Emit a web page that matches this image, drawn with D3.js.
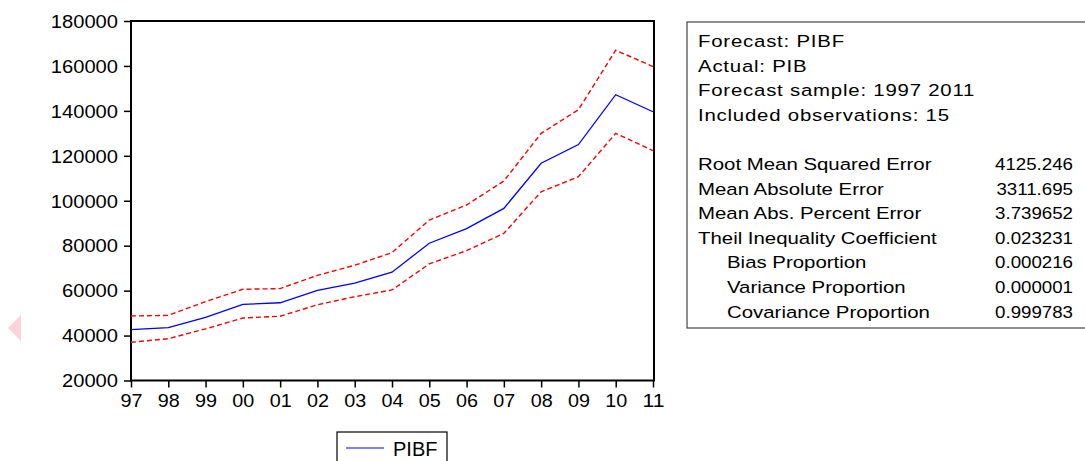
<!DOCTYPE html>
<html>
<head>
<meta charset="utf-8">
<script src="https://cdn.jsdelivr.net/npm/d3@7"></script>
<style>
  body { margin: 0; background: #fff; }
  text { font-family: "Liberation Sans", Arial, sans-serif; fill: #000; }
</style>
</head>
<body>
<svg id="chart" width="1085" height="461"></svg>
<script>
//// DATA

const years = ["97","98","99","00","01","02","03","04","05","06","07","08","09","10","11"]

// forecast PIBF
const pibf = [42600,43500,48100,53900,54600,60100,63300,68200,81100,87600,96600,116700,125000,147200,139600]
// +/- 2 S.E. bands
const upper = [48700,49000,55100,60600,60900,66800,71300,76900,91400,98100,108800,130000,140500,167000,159700]
const lower = [37000,38600,43000,47800,48600,53700,57300,60300,71900,77800,85500,104000,110700,130000,122300]

const yTicks = [20000,40000,60000,80000,100000,120000,140000,160000,180000]

const statsHeader = ["Forecast: PIBF","Actual: PIB","Forecast sample: 1997 2011","Included observations: 15"]
const statLabels = ["Root Mean Squared Error","Mean Absolute Error","Mean Abs. Percent Error",
  "Theil Inequality Coefficient","Bias Proportion","Variance Proportion","Covariance Proportion"]
const statValues = ["4125.246","3311.695","3.739652","0.023231","0.000216","0.000001","0.999783"]
const statIndent = [false,false,false,false,true,true,true]

//// CHART

const svg = d3.select("#chart")

const plot = {left: 131, right: 654, top: 21, bottom: 380.5}

const x = d3.scalePoint()
  .domain(years)
  .range([plot.left, plot.right - 1])

const y = d3.scaleLinear()
  .domain([20000, 180000])
  .range([plot.bottom, plot.top])

// y axis
const yAxis = svg.append("g")
  .attr("transform", `translate(${plot.left},0)`)
  .call(d3.axisLeft(y).tickValues(yTicks).tickSize(7).tickPadding(6).tickFormat(d3.format("d")))
yAxis.select(".domain").remove()
yAxis.selectAll("line").attr("stroke", "#000").attr("stroke-width", 1.5)
yAxis.selectAll("text")
  .style("font-size", "19px")
  .style("font-family", "Liberation Sans, Arial, sans-serif")
  .attr("dy", "0.33em")
  .attr("textLength", d => String(d).length * 11.2)
  .attr("lengthAdjust", "spacingAndGlyphs")

// x axis
const xAxis = svg.append("g")
  .attr("transform", `translate(0,${plot.bottom})`)
  .call(d3.axisBottom(x).tickSize(7).tickPadding(6))
xAxis.select(".domain").remove()
xAxis.selectAll("line").attr("stroke", "#000").attr("stroke-width", 1.5)
xAxis.selectAll("text")
  .style("font-size", "19px")
  .style("font-family", "Liberation Sans, Arial, sans-serif")
  .attr("textLength", 22)
  .attr("lengthAdjust", "spacingAndGlyphs")

// frame round the plot
svg.append("rect")
  .attr("x", plot.left)
  .attr("y", plot.top)
  .attr("width", plot.right - plot.left)
  .attr("height", plot.bottom - plot.top)
  .attr("fill", "none")
  .attr("stroke", "#000")
  .attr("stroke-width", 2)

const line = d3.line()
  .x((d, i) => x(years[i]))
  .y(d => y(d))

// confidence bands
for (const band of [upper, lower]) {
  svg.append("path")
    .attr("d", line(band))
    .attr("fill", "none")
    .attr("stroke", "#ff0000")
    .attr("stroke-width", 1.4)
    .attr("stroke-dasharray", "5,3")
}

svg.append("path")
  .attr("d", line(pibf))
  .attr("fill", "none")
  .attr("stroke", "#0000ff")
  .attr("stroke-width", 1.3)

// legend under the plot
const legend = svg.append("g").attr("transform", "translate(337,432)")
legend.append("rect")
  .attr("width", 110)
  .attr("height", 40)
  .attr("fill", "#fff")
  .attr("stroke", "#000")
  .attr("stroke-width", 1.2)
legend.append("line")
  .attr("x1", 9).attr("x2", 47)
  .attr("y1", 16).attr("y2", 16)
  .attr("stroke", "#0000ff")
  .attr("stroke-width", 1.2)
legend.append("text")
  .attr("x", 56).attr("y", 24)
  .style("font-size", "20px")
  .text("PIBF")

// statistics box
const box = svg.append("g")
box.append("rect")
  .attr("x", 687).attr("y", 22)
  .attr("width", 420).attr("height", 306)
  .attr("fill", "none")
  .attr("stroke", "#444")
  .attr("stroke-width", 1.2)

const rowY = i => 47 + 24.6 * i

box.selectAll(".hdr")
  .data(statsHeader)
  .join("text")
  .attr("class", "hdr")
  .attr("transform", (d, i) => `translate(698,${rowY(i)}) scale(1.2,1)`)
  .style("font-size", "17px")
  .style("letter-spacing", "0.65px")
  .text(d => d)

box.selectAll(".lbl")
  .data(statLabels)
  .join("text")
  .attr("class", "lbl")
  .attr("transform", (d, i) => `translate(${statIndent[i] ? 727 : 698},${rowY(i + 5)}) scale(1.2,1)`)
  .style("font-size", "17px")
  .text(d => d)

box.selectAll(".val")
  .data(statValues)
  .join("text")
  .attr("class", "val")
  .attr("transform", (d, i) => `translate(1073,${rowY(i + 5)}) scale(1.1,1)`)
  .attr("text-anchor", "end")
  .style("font-size", "17px")
  .text(d => d)

// faded arrow at the left edge
svg.append("path")
  .attr("d", "M8,328 L21,315 L21,341 Z")
  .attr("fill", "#fcd3dc")
</script>
</body>
</html>
